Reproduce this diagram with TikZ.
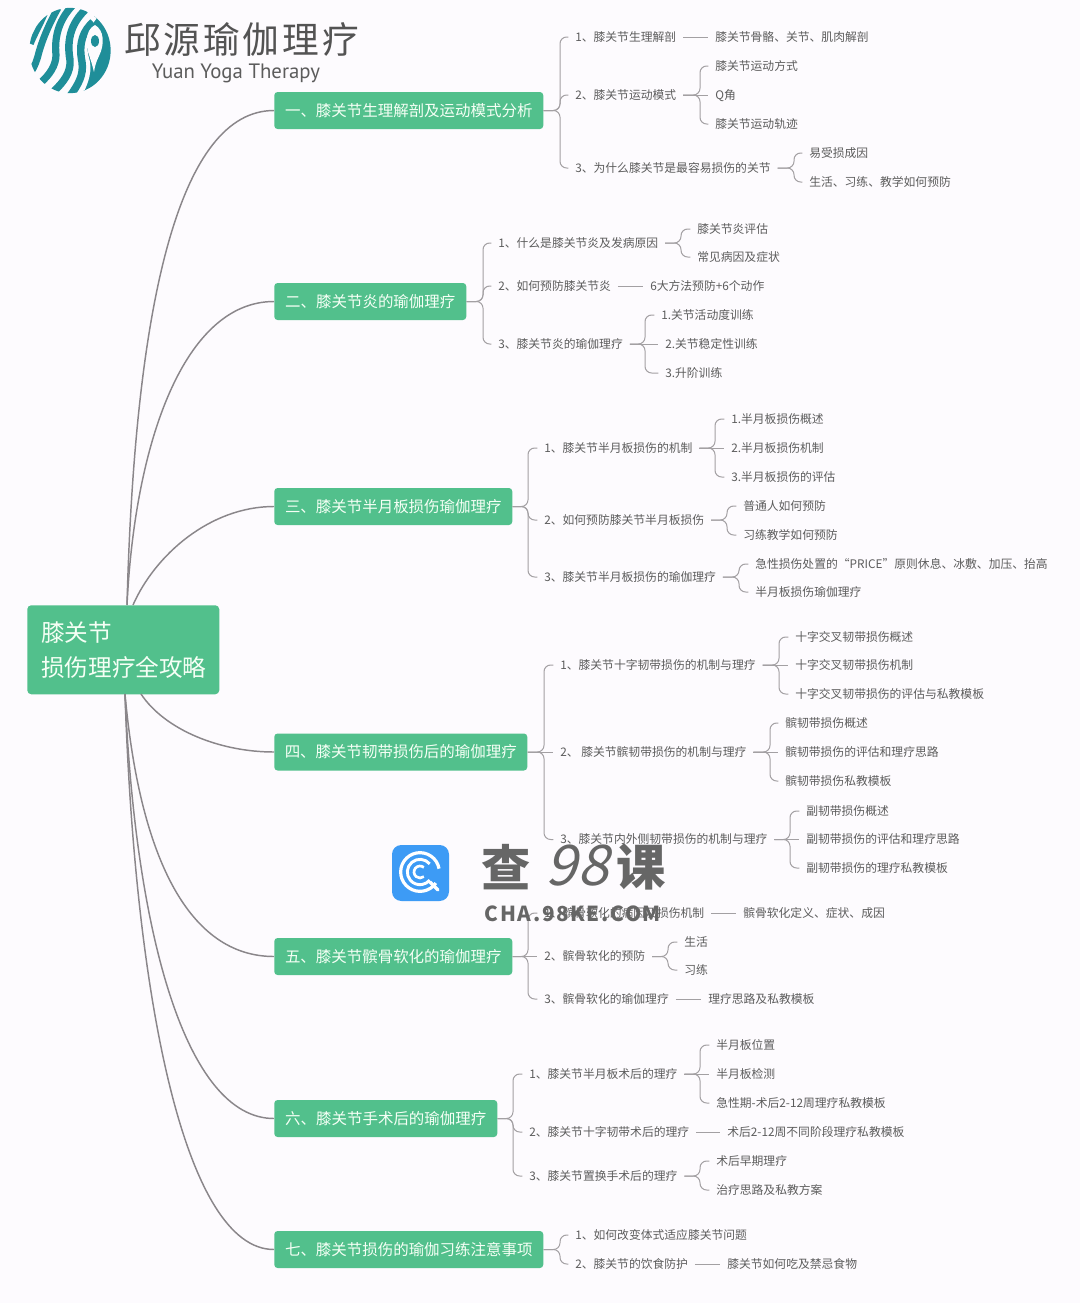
\documentclass[tikz,border=0pt]{standalone}
\usepackage{fontspec}
\setmainfont{Noto Sans CJK SC}
\newfontfamily\brandfont{PT Sans}
\usetikzlibrary{calc}
\definecolor{bgc}{HTML}{FDFBFE}
\definecolor{grn}{HTML}{52C08C}
\definecolor{txtc}{HTML}{5C5C5C}
\definecolor{linec}{HTML}{8A868A}
\definecolor{thinc}{HTML}{A3A0A3}
\definecolor{teal}{HTML}{1F8E99}
\definecolor{wmgrey}{HTML}{666666}
\definecolor{wmblue}{HTML}{3D9BF5}
\tikzset{
  leaf/.style={anchor=west,inner xsep=0pt,inner ysep=0pt,text height=7.5pt,text depth=1.5pt,font=\fontsize{8.85pt}{10pt}\selectfont,text=txtc},
  lvl/.style={anchor=west,fill=grn,rounded corners=2.5pt,minimum height=27.75pt,inner xsep=0pt,inner ysep=0pt,text=white!96!green,font=\fontsize{11.6pt}{13pt}\selectfont},
  rootbox/.style={anchor=north west,fill=grn,rounded corners=3pt,minimum width=144pt,minimum height=66.75pt,inner xsep=10.5pt,inner ysep=0pt,text=white!96!green,font=\fontsize{17.7pt}{25pt}\selectfont,align=left,text width=123pt},
  conn/.style={draw=thinc,line width=0.75pt,rounded corners=5pt,shorten <=5pt,shorten >=5pt},
  connb/.style={draw=thinc,line width=0.75pt,rounded corners=5pt,shorten >=5pt},
  trunk/.style={draw=linec,line width=1.1pt},
}
\newcommand{\lf}[4]{\node[leaf] (#1) at (#2,#3) {#4};}
\newcommand{\bx}[4]{\node[lvl,minimum width=#3*0.75pt] (#1) at (274,#2) {#4};}
\newcommand{\st}[2]{\draw[conn] (#1.east) -- (#2.west);}
\newcommand{\fan}[4]{\foreach \cc in {#4}{\draw[#1] (#2.east) -- (#2.east -| #3) -- (\cc.west -| #3) -- (\cc.west);}}
\begin{document}
\begin{tikzpicture}[x=0.75pt,y=-0.75pt]
\fill[bgc] (0,0) rectangle (1080,1303);
\useasboundingbox (0,0) rectangle (1080,1303);

% spines
\foreach \n/\x in {sa/560,sa2/700,sa3/794,sb/483,sb1/681,sb3/645,sc/528,sc1/715,sc2/727,sc3/739,sd/544,sd1/779,sd2/770,sd3/790,se/528,se2/668,sf/513,sf1/700,sf3/700,sg/560}
  \coordinate (\n) at (\x,0);

% root and branches
\node[rootbox] (root) at (27,605) {\raisebox{1pt}{膝关节}\\损伤理疗全攻略};
\bx{A}{110.5}{269}{一、膝关节生理解剖及运动模式分析}
\bx{B}{301.5}{192}{二、膝关节炎的瑜伽理疗}
\bx{C}{506.5}{238}{三、膝关节半月板损伤瑜伽理疗}
\bx{D}{752}{253}{四、膝关节韧带损伤后的瑜伽理疗}
\bx{E}{956.5}{238}{五、膝关节髌骨软化的瑜伽理疗}
\bx{F}{1118.5}{223}{六、膝关节手术后的瑜伽理疗}
\bx{G}{1249.5}{269}{七、膝关节损伤的瑜伽习练注意事项}

\coordinate (rt) at (127,605);
\coordinate (rt3) at (133,605);
\coordinate (rb) at (125,694);
\coordinate (rb4) at (141,694);
\draw[trunk] (rt) .. controls (135,300) and (180,110.5) .. (A.west);
\draw[trunk] (rt) .. controls (135,440) and (185,301.5) .. (B.west);
\draw[trunk] (rt3) .. controls (155,555) and (210,506.5) .. (C.west);
\draw[trunk] (rb4) .. controls (165,730) and (220,752) .. (D.west);
\draw[trunk] (rb) .. controls (140,860) and (190,956.5) .. (E.west);
\draw[trunk] (rb) .. controls (135,930) and (185,1118.5) .. (F.west);
\draw[trunk] (rb) .. controls (135,1000) and (185,1249.5) .. (G.west);

% branch A
\lf{a1}{575}{37}{1、膝关节生理解剖}
\lf{a11}{715}{37}{膝关节骨骼、关节、肌肉解剖}
\lf{a2}{575}{95}{2、膝关节运动模式}
\lf{a21}{715}{66}{膝关节运动方式}
\lf{a22}{715}{95}{Q角}
\lf{a23}{715}{124}{膝关节运动轨迹}
\lf{a3}{575}{168}{3、为什么膝关节是最容易损伤的关节}
\lf{a31}{809}{153}{易受损成因}
\lf{a32}{809}{182}{生活、习练、教学如何预防}
\fan{connb}{A}{sa}{a1,a2,a3}
\st{a1}{a11}
\fan{conn}{a2}{sa2}{a21,a23}
\st{a2}{a22}
\fan{conn}{a3}{sa3}{a31,a32}

% branch B
\lf{b1}{498}{243}{1、什么是膝关节炎及发病原因}
\lf{b11}{697}{229}{膝关节炎评估}
\lf{b12}{697}{257}{常见病因及症状}
\lf{b2}{498}{286}{2、如何预防膝关节炎}
\lf{b21}{650}{286}{6大方法预防+6个动作}
\lf{b3}{498}{344}{3、膝关节炎的瑜伽理疗}
\lf{b31}{661}{315}{1.关节活动度训练}
\lf{b32}{665}{344}{2.关节稳定性训练}
\lf{b33}{665}{373}{3.升阶训练}
\fan{connb}{B}{sb}{b1,b2,b3}
\fan{conn}{b1}{sb1}{b11,b12}
\st{b2}{b21}
\fan{conn}{b3}{sb3}{b31,b33}
\st{b3}{b32}

% branch C
\lf{c1}{544}{448}{1、膝关节半月板损伤的机制}
\lf{c11}{731}{419}{1.半月板损伤概述}
\lf{c12}{731}{448}{2.半月板损伤机制}
\lf{c13}{731}{477}{3.半月板损伤的评估}
\lf{c2}{544}{520}{2、如何预防膝关节半月板损伤}
\lf{c21}{743}{506}{普通人如何预防}
\lf{c22}{743}{535}{习练教学如何预防}
\lf{c3}{544}{577}{3、膝关节半月板损伤的瑜伽理疗}
\lf{c31}{755}{564}{急性损伤处置的“PRICE”原则休息、冰敷、加压、抬高}
\lf{c32}{755}{592}{半月板损伤瑜伽理疗}
\fan{connb}{C}{sc}{c1,c2,c3}
\fan{conn}{c1}{sc1}{c11,c13}
\st{c1}{c12}
\fan{conn}{c2}{sc2}{c21,c22}
\fan{conn}{c3}{sc3}{c31,c32}

% branch D
\lf{d1}{560}{665}{1、膝关节十字韧带损伤的机制与理疗}
\lf{d11}{795}{637}{十字交叉韧带损伤概述}
\lf{d12}{795}{665}{十字交叉韧带损伤机制}
\lf{d13}{795}{694}{十字交叉韧带损伤的评估与私教模板}
\lf{d2}{560}{752}{2、 膝关节髌韧带损伤的机制与理疗}
\lf{d21}{785}{723}{髌韧带损伤概述}
\lf{d22}{785}{752}{髌韧带损伤的评估和理疗思路}
\lf{d23}{785}{781}{髌韧带损伤私教模板}
\lf{d3}{560}{839.5}{3、膝关节内外侧韧带损伤的机制与理疗}
\lf{d31}{806}{811}{副韧带损伤概述}
\lf{d32}{806}{839.5}{副韧带损伤的评估和理疗思路}
\lf{d33}{806}{868}{副韧带损伤的理疗私教模板}
\fan{connb}{D}{sd}{d1,d3}
\draw[connb] (D.east) -- (d2.west);
\fan{conn}{d1}{sd1}{d11,d13}
\st{d1}{d12}
\fan{conn}{d2}{sd2}{d21,d23}
\st{d2}{d22}
\fan{conn}{d3}{sd3}{d31,d33}
\st{d3}{d32}

% branch E
\lf{e1}{544}{913}{1、髌骨软化的病因及损伤机制}
\lf{e11}{743}{913}{髌骨软化定义、症状、成因}
\lf{e2}{544}{956.5}{2、髌骨软化的预防}
\lf{e21}{684}{942}{生活}
\lf{e22}{684}{970}{习练}
\lf{e3}{544}{999}{3、髌骨软化的瑜伽理疗}
\lf{e31}{708}{999}{理疗思路及私教模板}
\fan{connb}{E}{se}{e1,e3}
\draw[connb] (E.east) -- (e2.west);
\st{e1}{e11}
\fan{conn}{e2}{se2}{e21,e22}
\st{e3}{e31}

% branch F
\lf{f1}{529}{1074}{1、膝关节半月板术后的理疗}
\lf{f11}{716}{1045}{半月板位置}
\lf{f12}{716}{1074}{半月板检测}
\lf{f13}{716}{1103}{急性期-术后2-12周理疗私教模板}
\lf{f2}{529}{1132}{2、膝关节十字韧带术后的理疗}
\lf{f21}{727}{1132}{术后2-12周不同阶段理疗私教模板}
\lf{f3}{529}{1176}{3、膝关节置换手术后的理疗}
\lf{f31}{716}{1161}{术后早期理疗}
\lf{f32}{716}{1190}{治疗思路及私教方案}
\fan{connb}{F}{sf}{f1,f2,f3}
\fan{conn}{f1}{sf1}{f11,f13}
\st{f1}{f12}
\st{f2}{f21}
\fan{conn}{f3}{sf3}{f31,f32}

% branch G
\lf{g1}{575}{1235}{1、如何改变体式适应膝关节问题}
\lf{g2}{575}{1264}{2、膝关节的饮食防护}
\lf{g21}{727}{1264}{膝关节如何吃及禁忌食物}
\fan{connb}{G}{sg}{g1,g2}
\st{g2}{g21}

% logo
\begin{scope}
\clip (70,50.5) ellipse [x radius=30.5pt,y radius=32pt];
\fill[teal] (95,15) .. controls (84,30) and (83,45) .. (88,62) .. controls (90,75) and (85,85) .. (80,100) -- (120,100) -- (120,15) -- cycle;
\draw[bgc,line width=3pt] (96,16) .. controls (84,30) and (83,45) .. (88,62) .. controls (90,75) and (85,85) .. (78,100);
\draw[teal,line width=5.6pt] (93,22) .. controls (84,30) and (78,42) .. (82,62) .. controls (84,75) and (78,85) .. (70,96);
\draw[teal,line width=5.6pt] (85,10) .. controls (73,22) and (66,37) .. (70,60) .. controls (71,72) and (64,82) .. (53,92);
\draw[teal,line width=5.4pt] (74,4) .. controls (60,18) and (54,35) .. (56,55) .. controls (56,65) and (50,75) .. (39,84);
\draw[teal,line width=5.2pt] (58,8) .. controls (50,22) and (43,38) .. (39,52) .. controls (37,60) and (35,66) .. (31,72);
\draw[teal,line width=4pt] (45,14) .. controls (40,26) and (35,34) .. (31,44);
\draw[teal,line width=4pt] (26,50) -- (26,62);
\end{scope}
\fill[bgc] (95,25) .. controls (85,30) and (85,45) .. (90,58) .. controls (92,64) and (93,68) .. (94,72) .. controls (95,66) and (96,62) .. (99,56) .. controls (105,44) and (104,30) .. (95,25) -- cycle;
\fill[teal] (95,41) ellipse [x radius=3pt,y radius=4.5pt];
\node[anchor=center,inner sep=0pt,text=txtc!90!black,font=\fontsize{27.5pt}{30pt}\selectfont\addfontfeature{LetterSpace=8}] (brand) at (241.5,40) {邱源瑜伽理疗};
\node[anchor=center,inner sep=0pt,text=txtc,font=\brandfont\fontsize{15.6pt}{18pt}\selectfont] (brandsub) at (236,73) {Yuan Yoga Therapy};

% watermark
\fill[wmblue,rounded corners=7pt] (392,845) rectangle (449,901);
\coordinate (wc) at (420,872);
\draw[white,line width=2.4pt] (wc) ++(-35:14.5pt) arc[start angle=-35,end angle=-350,radius=14.5pt];
\draw[white,line width=2.2pt] (wc) ++(40:9.5pt) arc[start angle=40,end angle=320,radius=9.5pt];
\draw[white,line width=2pt] (wc) ++(50:4.5pt) arc[start angle=50,end angle=310,radius=4.5pt];
\draw[white,line width=2.4pt,line cap=round] (430,882) -- (438,890);
\node[anchor=center,inner sep=0pt,text=wmgrey,font=\bfseries\fontsize{37pt}{40pt}\selectfont] (wm1) at (506,867) {查};
\node[anchor=center,inner sep=0pt,text=wmgrey,font=\fontsize{42pt}{44pt}\selectfont\addfontfeature{FakeSlant=0.25}] (wm2) at (577,866) {98};
\node[anchor=center,inner sep=0pt,text=wmgrey,font=\bfseries\fontsize{37pt}{40pt}\selectfont] (wm3) at (641,867) {课};
\node[anchor=center,inner sep=0pt,text=wmgrey,font=\bfseries\fontsize{15.5pt}{18pt}\selectfont\addfontfeature{LetterSpace=8}] (wm4) at (573,914) {CHA.98KE.COM};
\end{tikzpicture}
\end{document}
